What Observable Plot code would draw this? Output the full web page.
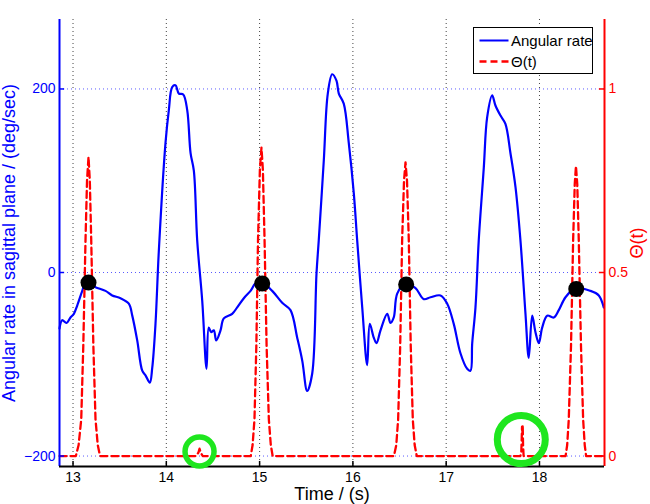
<!DOCTYPE html>
<html><head><meta charset="utf-8">
<script src="https://cdn.jsdelivr.net/npm/d3@7"></script>
<script src="https://cdn.jsdelivr.net/npm/@observablehq/plot@0.6"></script>
<style>
html,body{margin:0;padding:0;background:#fff;}
#wrap{position:relative;width:650px;height:504px;font-family:"Liberation Sans",Arial,sans-serif;}
#legend{position:absolute;left:473px;top:27px;width:118px;height:45px;border:1.5px solid #000;background:#fff;}
#legend svg{display:block;font-family:"Liberation Sans",Arial,sans-serif;}
</style></head><body><div id="wrap"></div>
<script>
// Angular rate (deg/sec) vs time (s)
const rateT = [12.855,12.884,12.930,12.973,13.009,13.045,13.099,13.134,13.241,13.348,
13.420,13.509,13.598,13.635,13.688,13.742,13.777,13.823,13.849,13.884,
13.920,13.991,14.027,14.063,14.098,14.134,14.181,14.224,14.260,14.295,
14.331,14.385,14.431,14.455,14.481,14.509,14.535,14.581,14.616,14.706,
14.760,14.831,14.903,14.956,15.028,15.135,15.242,15.331,15.403,15.457,
15.510,15.564,15.610,15.634,15.688,15.731,15.778,15.824,15.849,15.902,
15.956,16.010,16.046,16.100,16.153,16.181,16.224,16.253,16.296,16.368,
16.403,16.438,16.475,16.564,16.671,16.760,16.832,16.939,17.011,17.081,
17.153,17.225,17.260,17.279,17.314,17.349,17.403,17.439,17.493,17.528,
17.582,17.635,17.689,17.743,17.796,17.850,17.885,17.922,17.957,17.993,
18.029,18.083,18.153,18.207,18.279,18.386,18.547,18.636,18.689];
const rateV = [-61,-52,-55,-49,-45,-36,-20,-11,-16,-20,
-25,-28,-34,-47,-74,-107,-112,-120,-104,-56,
24,141,177,202,204,195,194,177,130,111,
35,-31,-105,-60,-65,-63,-74,-63,-50,-45,
-38,-28,-20,-12,-11,-20,-33,-41,-71,-96,
-129,-110,-1,35,122,195,216,209,195,184,
141,86,35,-38,-101,-56,-71,-77,-63,-45,
-55,-49,-23,-12,-17,-29,-27,-25,-34,-56,
-88,-105,-107,-77,-38,35,114,169,193,182,
171,162,130,93,35,-45,-93,-47,-65,-77,
-60,-47,-49,-41,-27,-17,-20,-25,-38];

// Theta(t) (right axis)
const thetaT = [12.855,13.030,13.060,13.088,13.110,13.134,13.150,13.166,13.180,13.195,13.218,13.241,13.265,13.290,
14.320,14.345,14.356,14.367,14.390,
14.905,14.925,14.945,14.965,14.983,15.003,15.020,15.035,15.053,15.075,15.099,15.120,15.140,
16.440,16.465,16.485,16.507,16.528,16.548,16.564,16.580,16.599,16.620,16.642,16.662,16.685,
17.795,17.805,17.810,17.813,17.817,17.820,17.824,17.830,
18.280,18.297,18.314,18.338,18.361,18.378,18.391,18.405,18.421,18.445,18.468,18.485,18.500,18.697];
const thetaV = [0,0,0.03,0.10,0.30,0.59,0.75,0.815,0.75,0.59,0.30,0.10,0.03,0,
0,0.01,0.02,0.01,0,
0,0.03,0.10,0.30,0.59,0.78,0.84,0.78,0.59,0.30,0.10,0.03,0,
0,0.03,0.10,0.30,0.59,0.75,0.80,0.75,0.59,0.30,0.10,0.03,0,
0,0.01,0.05,0.08,0.06,0.085,0.03,0,
0,0.03,0.10,0.30,0.59,0.74,0.79,0.74,0.59,0.30,0.10,0.03,0,0];

// detected events (black dots) and highlighted spurious bumps (green rings)
const markerT = [13.166, 15.028, 16.571, 18.394];
const markerV = [-11, -12, -13, -18];
const ringT = [14.356, 17.805];
const ringV = [-195, -182];

// axes
const xDomain = [12.855, 18.697];
const yDomain = [-211.4, 275.7];
const xTicks = [13, 14, 15, 16, 17, 18];
const yTicks = [-200, 0, 200];
const thetaTicks = [0, 0.5, 1];
const thetaToLeft = [-200, 200]; // theta 0 and 1 aligned with left -200 and 200

const toLeft = d3.scaleLinear().domain([0, 1]).range(thetaToLeft);
const rate = rateT.map((t, i) => ({t, v: rateV[i]}));
const theta = thetaT.map((t, i) => ({t, v: toLeft(thetaV[i])}));
const markers = markerT.map((t, i) => ({t, v: markerV[i]}));
const rings = ringT.map((t, i) => ({t, v: ringV[i]}));
const thetaTickPos = thetaTicks.map(d => toLeft(d));
const [xMin, xMax] = xDomain;
const [yMin] = yDomain;

const chart = Plot.plot({
  width: 650, height: 504,
  marginLeft: 59, marginRight: 46, marginTop: 19, marginBottom: 38,
  style: {fontFamily: "'Liberation Sans', Arial, sans-serif", fontSize: "14px", background: "white", overflow: "visible"},
  x: {domain: xDomain},
  y: {domain: yDomain},
  marks: [
    Plot.gridX(xTicks, {stroke: "#444", strokeOpacity: 1, strokeDasharray: "1,3", strokeWidth: 1}),
    Plot.gridY(yTicks, {stroke: "#5a5aff", strokeOpacity: 1, strokeDasharray: "1,3", strokeWidth: 1}),
    Plot.line(rate, {x: "t", y: "v", stroke: "#0000ff", strokeWidth: 2.2, curve: "catmull-rom"}),
    Plot.line(theta, {x: "t", y: "v", stroke: "#ff0000", strokeWidth: 2.3, strokeDasharray: "7,4"}),
    Plot.ruleX([xMin], {stroke: "#0000ff", strokeWidth: 2}),
    Plot.ruleX([xMax], {stroke: "#ff0000", strokeWidth: 2}),
    Plot.ruleY([yMin], {stroke: "#000", strokeWidth: 2}),
    Plot.ruleY(yTicks, {x1: () => xMin, x2: () => xMin + 0.055, stroke: "#0000ff", strokeWidth: 1.5}),
    Plot.ruleY(thetaTickPos, {x1: () => xMax - 0.055, x2: () => xMax, stroke: "#ff0000", strokeWidth: 1.5}),
    Plot.ruleX(xTicks, {y1: () => yMin, y2: () => yMin + 5.5, stroke: "#000", strokeWidth: 1.5}),
    Plot.dot(markers, {x: "t", y: "v", r: 8, fill: "#000", stroke: "none"}),
    Plot.dot([rings[0]], {x: "t", y: "v", r: 14.5, fill: "none", stroke: "#1ee61e", strokeWidth: 5.5}),
    Plot.dot([rings[1]], {x: "t", y: "v", r: 24, fill: "none", stroke: "#1ee61e", strokeWidth: 7}),
    Plot.axisY(yTicks, {anchor: "left", tickSize: 0, tickPadding: 4, color: "#0000ff", fontSize: 14, label: null}),
    Plot.axisY(thetaTickPos, {anchor: "right", tickSize: 0, tickPadding: 4, color: "#ff0000", fontSize: 14, label: null,
      tickFormat: (d) => String(thetaTicks[thetaTickPos.indexOf(d)])}),
    Plot.axisX(xTicks, {anchor: "bottom", tickSize: 0, tickPadding: 6, color: "#000", fontSize: 14, label: null}),
    Plot.text(["Angular rate in sagittal plane / (deg/sec)"], {frameAnchor: "left", textAnchor: "middle", lineAnchor: "middle", rotate: -90, dx: -50, fill: "#0000ff", fontSize: 18}),
    Plot.text(["Θ(t)"], {frameAnchor: "right", textAnchor: "middle", lineAnchor: "middle", rotate: -90, dx: 33, fill: "#ff0000", fontSize: 18}),
    Plot.text(["Time / (s)"], {frameAnchor: "bottom", textAnchor: "middle", lineAnchor: "middle", dy: 28, fill: "#000", fontSize: 18})
  ]
});
const wrap = document.getElementById("wrap");
wrap.appendChild(chart);
const legend = document.createElement("div");
legend.id = "legend";
legend.innerHTML = `<svg width="118" height="45">
<line x1="5.5" y1="12.5" x2="34.5" y2="12.5" stroke="#0000ff" stroke-width="2"/>
<text x="37" y="17.5" font-size="15" fill="#000">Angular rate</text>
<line x1="5.5" y1="33.5" x2="34.5" y2="33.5" stroke="#ff0000" stroke-width="2.3" stroke-dasharray="7,4"/>
<text x="37" y="38.5" font-size="15" fill="#000">Θ(t)</text>
</svg>`;
wrap.appendChild(legend);
</script>
</body></html>
